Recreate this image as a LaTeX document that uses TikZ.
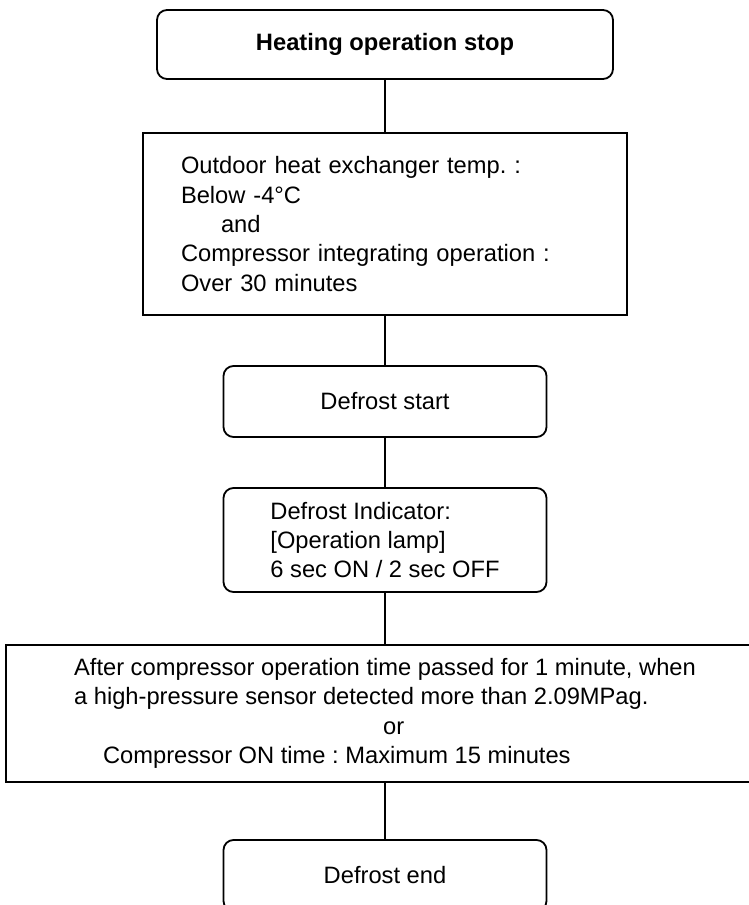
\documentclass[tikz,border=0pt]{standalone}
\usepackage{fontspec}
\setmainfont{Liberation Sans}
\usepackage{tikz}
\frenchspacing

\tikzset{
  flowbox/.style={draw, line width=1.8pt, font=\fontsize{23.7}{29.4}\selectfont},
  roundbox/.style={flowbox, rounded corners=10pt, minimum width=323pt, minimum height=71pt},
  squarebox/.style={flowbox, align=left},
  link/.style={draw, line width=1.8pt}
}

\begin{document}
\begin{tikzpicture}[x=1pt,y=-1pt]
% Frame
\useasboundingbox (0,0) rectangle (749,905);
% Start
\node[roundbox, minimum width=456pt, minimum height=69pt, font=\fontsize{23.7}{29.4}\selectfont\bfseries] (stop) at (385,44.5) {Heating operation stop};
% Defrost condition
\node[squarebox, minimum width=484pt, minimum height=182pt, inner xsep=38pt, text width=408pt] (cond) at (385,224) {Outdoor heat exchanger temp. :\\Below -4°C\\\hspace*{40pt}and\\Compressor integrating operation :\\Over 30 minutes};
% Defrost start
\node[roundbox] (dstart) at (385,401.5) {Defrost start};
% Indicator
\node[roundbox, minimum height=104pt, align=left] (lamp) at (385,540) {Defrost Indicator:\\{[Operation lamp]}\\6 sec ON / 2 sec OFF};
% End condition
\node[squarebox, minimum width=758pt, minimum height=137pt] (endcond) at (385,713.5) {After compressor operation time passed for 1 minute, when\\a high-pressure sensor detected more than 2.09MPag.\\\hspace*{309pt}or\\\hspace*{29pt}Compressor ON time : Maximum 15 minutes};
% Defrost end
\node[roundbox] (dend) at (385,875.5) {Defrost end};
% Connect the boxes
\path[link] (stop) -- (cond);
\path[link] (cond) -- (dstart);
\path[link] (dstart) -- (lamp);
\path[link] (lamp) -- (endcond);
\path[link] (endcond) -- (dend);
\end{tikzpicture}
\end{document}
